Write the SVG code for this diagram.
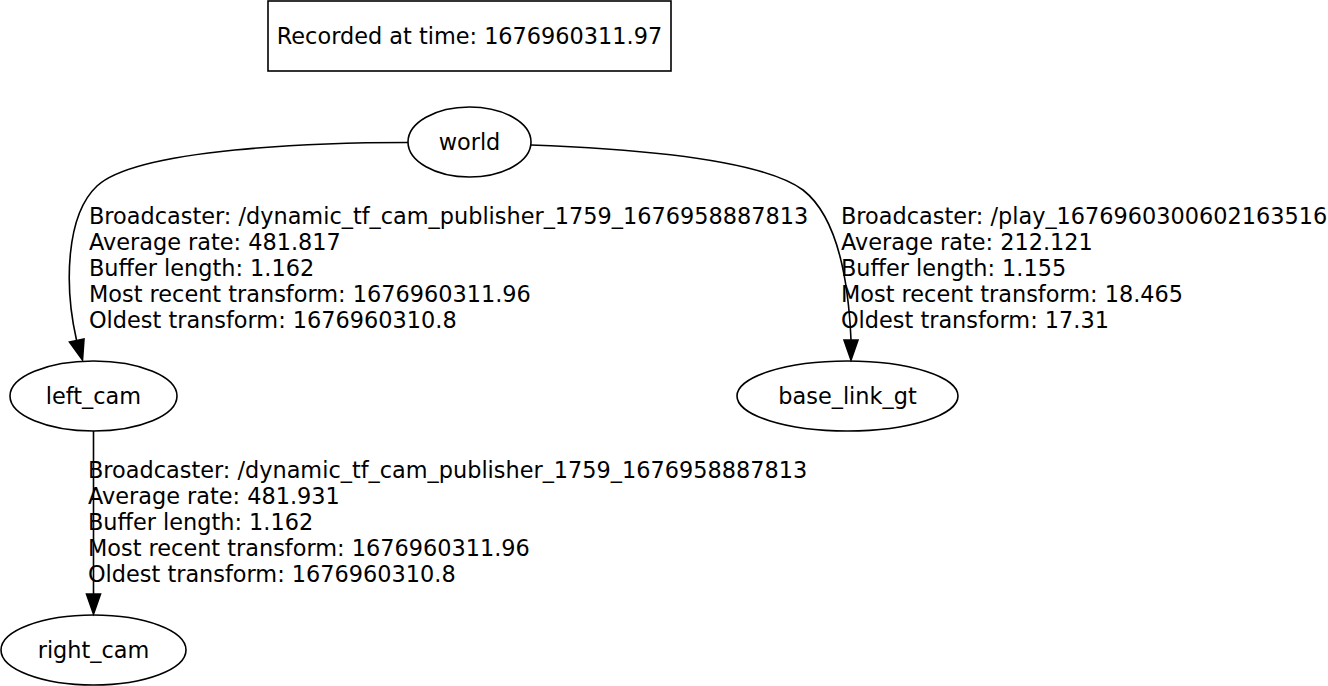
<svg xmlns="http://www.w3.org/2000/svg" width="1328" height="686" viewBox="0 0 1328 686">
<style>
text{font-family:"DejaVu Sans","Liberation Sans",sans-serif;font-size:22.4px;fill:#000}
.n text{text-anchor:middle}
.n ellipse,.n rect{fill:none;stroke:#000;stroke-width:1.6}
.e path{fill:none;stroke:#000;stroke-width:1.6}
.e polygon{fill:#000;stroke:#000;stroke-width:1.6}
</style>
<rect width="1328" height="686" fill="#fff"/>
<g id="recorded" class="n">
<rect x="268" y="1" width="403" height="70"/>
<text x="469.5" y="44">Recorded at time: 1676960311.97</text>
</g>
<g id="world" class="n">
<ellipse cx="469.5" cy="142" rx="61.5" ry="35"/>
<text x="469.5" y="150">world</text>
</g>
<g id="left_cam" class="n">
<ellipse cx="93.5" cy="396" rx="83.5" ry="35"/>
<text x="93.5" y="404">left_cam</text>
</g>
<g id="base_link_gt" class="n">
<ellipse cx="847.5" cy="396" rx="110.5" ry="35"/>
<text x="847.5" y="404">base_link_gt</text>
</g>
<g id="right_cam" class="n">
<ellipse cx="93.5" cy="650" rx="92.5" ry="35"/>
<text x="93.5" y="658">right_cam</text>
</g>
<g id="connectors" class="e">
<path d="M408,142.5 C320,142.5 138,148 97,186 C66,215 64,285 76.5,340"/>
<polygon points="69.5,342 84,339 82.5,360"/>
<path d="M531,145 C640,149 762,160 803,190 C835,215 848,270 851,340"/>
<polygon points="844,340 858,340 851,360"/>
<path d="M93.5,431 L93.5,594"/>
<polygon points="86.5,594 100.5,594 93.5,614"/>
</g>
<g id="labels">
<text x="89" y="224">Broadcaster: /dynamic_tf_cam_publisher_1759_1676958887813</text>
<text x="89" y="250">Average rate: 481.817</text>
<text x="89" y="276">Buffer length: 1.162</text>
<text x="89" y="302">Most recent transform: 1676960311.96</text>
<text x="89" y="328">Oldest transform: 1676960310.8</text>
<text x="841" y="224">Broadcaster: /play_1676960300602163516</text>
<text x="841" y="250">Average rate: 212.121</text>
<text x="841" y="276">Buffer length: 1.155</text>
<text x="841" y="302">Most recent transform: 18.465</text>
<text x="841" y="328">Oldest transform: 17.31</text>
<text x="88" y="478">Broadcaster: /dynamic_tf_cam_publisher_1759_1676958887813</text>
<text x="88" y="504">Average rate: 481.931</text>
<text x="88" y="530">Buffer length: 1.162</text>
<text x="88" y="556">Most recent transform: 1676960311.96</text>
<text x="88" y="582">Oldest transform: 1676960310.8</text>
</g>
</svg>
